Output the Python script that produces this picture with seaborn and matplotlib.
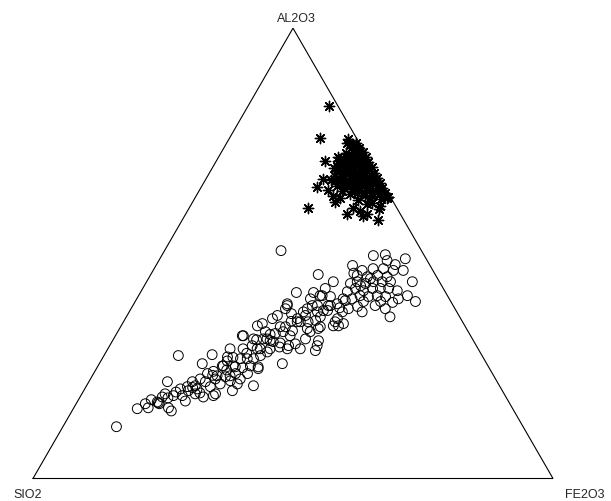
import numpy as np
import pandas as pd
import matplotlib
matplotlib.use("Agg")
import matplotlib.pyplot as plt
import seaborn as sns

# Ternary composition data (weight %), SiO2 is the remainder to 100
circ_al2o3 = [
    11.5, 15.5, 15.7, 17.5, 17.0, 16.8, 16.6, 15.7, 15.0, 21.5,
    27.3, 19.2, 18.4, 17.2, 20.4, 21.5, 19.9, 22.1, 18.1, 20.4,
    18.8, 27.5, 25.5, 23.3, 22.8, 25.0, 26.1, 28.8, 18.4, 21.7,
    22.1, 25.0, 31.7, 20.6, 24.4, 26.6, 29.5, 33.9, 31.0, 30.4,
    25.5, 28.8, 33.7, 36.2, 38.4, 28.8, 29.5, 30.6, 33.3, 37.0,
    33.7, 33.9, 38.4, 38.4, 34.8, 32.8, 28.1, 28.8, 45.3, 43.7,
    41.3, 41.3, 40.6, 40.4, 39.9, 38.8, 37.7, 37.7, 38.4, 38.4,
    38.8, 37.0, 35.5, 36.2, 37.0, 37.3, 35.5, 34.8, 34.8, 32.6,
    33.3, 34.8, 33.9, 32.6, 33.7, 32.6, 31.7, 31.7, 31.0, 31.0,
    30.6, 29.5, 28.4, 28.8, 28.8, 28.8, 27.0, 26.6, 26.6, 27.3,
    25.0, 24.8, 25.0, 24.8, 22.8, 23.3, 49.5, 49.7, 48.8, 48.4,
    47.3, 46.2, 46.6, 46.6, 46.2, 46.2, 45.1, 44.8, 45.1, 44.8,
    43.7, 43.3, 43.7, 43.7, 43.7, 43.7, 42.2, 41.7, 42.2, 42.2,
    42.2, 41.7, 41.5, 40.6, 40.6, 40.4, 40.6, 40.4, 39.9, 39.1,
    39.3, 37.3, 39.5, 38.2, 37.0, 38.4, 37.7, 35.9, 39.3, 35.5,
    37.7, 39.3, 50.6, 19.5, 18.8, 16.6, 18.1, 18.8, 18.4, 19.9,
    20.6, 21.5, 22.1, 21.0, 22.6, 23.3, 21.0, 34.4, 32.2, 29.9,
    31.0, 43.3, 39.9, 44.4, 47.5, 40.6, 42.2, 39.9, 19.5, 35.9,
    34.4, 17.9, 20.2, 23.8, 24.1, 26.9, 27.8, 30.1, 32.0, 34.9,
    36.6, 19.0, 22.9, 24.6, 29.2, 30.8, 35.1, 37.9, 42.8, 45.6,
]
circ_fe2o3 = [
    10.3, 12.3, 14.3, 14.0, 15.4, 15.7, 16.0, 18.2, 19.1, 15.1,
    14.3, 17.9, 19.5, 20.7, 19.5, 19.9, 21.6, 21.1, 23.7, 23.9,
    25.7, 20.7, 19.8, 21.9, 24.0, 23.9, 24.3, 23.5, 25.5, 27.1,
    28.8, 26.0, 24.6, 32.1, 31.1, 27.9, 27.4, 26.2, 29.5, 31.0,
    35.2, 34.5, 31.7, 28.9, 29.7, 37.0, 39.9, 39.6, 36.1, 33.5,
    38.4, 40.8, 38.0, 34.5, 33.4, 33.5, 31.0, 29.3, 32.2, 35.9,
    30.0, 33.3, 35.3, 37.0, 39.7, 29.5, 29.7, 33.9, 35.5, 37.6,
    39.1, 41.0, 33.1, 34.3, 36.2, 38.0, 28.3, 34.0, 35.5, 37.0,
    38.2, 40.7, 41.8, 28.4, 30.7, 31.8, 33.6, 24.4, 26.9, 28.8,
    30.3, 34.4, 40.1, 26.0, 28.7, 31.2, 23.9, 26.6, 29.1, 30.1,
    24.1, 26.5, 29.3, 30.9, 26.5, 29.6, 40.7, 42.9, 47.2, 43.9,
    37.8, 40.2, 42.1, 44.1, 46.2, 48.1, 39.8, 41.9, 43.7, 45.7,
    40.5, 42.3, 43.6, 45.3, 46.9, 51.1, 40.9, 42.7, 44.2, 45.7,
    47.3, 49.2, 39.7, 34.9, 42.6, 44.3, 45.9, 47.6, 50.3, 49.6,
    53.9, 37.2, 40.3, 43.3, 44.8, 46.6, 48.9, 50.7, 47.2, 40.8,
    41.8, 43.9, 22.4, 20.1, 21.8, 13.3, 15.8, 16.0, 17.8, 18.4,
    20.9, 22.4, 24.0, 25.5, 25.7, 27.3, 28.8, 26.9, 30.5, 35.5,
    36.9, 39.4, 41.4, 42.7, 45.9, 51.7, 35.1, 33.4, 28.6, 37.3,
    42.5, 17.0, 20.6, 22.8, 25.2, 25.0, 27.2, 32.5, 29.6, 32.2,
    31.4, 22.6, 23.1, 28.0, 32.8, 27.6, 36.8, 40.0, 41.6, 38.9,
]

# Second group: Fe2O3 is the remainder to 100
star_al2o3 = [
    82.7, 75.7, 75.3, 70.4, 66.6, 64.8, 60.0, 61.5, 58.8, 58.4,
    62.6, 60.6, 57.3, 74.4, 71.5, 71.1, 68.9, 66.2, 64.0, 62.8,
    62.2, 60.0, 59.5, 58.8, 61.1, 62.2,
    74.6, 74.2,
    73.5, 73.1, 73.4,
    72.4, 72.0, 72.3, 71.9, 72.2,
    71.3, 70.9, 71.2, 70.8, 71.1, 70.9,
    70.2, 69.8, 70.1, 69.7, 70.0, 69.8, 70.1,
    69.1, 68.7, 69.0, 68.6, 68.9, 68.7, 69.0, 68.8,
    67.9, 67.5, 67.8, 67.4, 67.7, 67.5, 67.8, 67.6,
    66.8, 66.4, 66.7, 66.3, 66.6, 66.4, 66.7, 66.5,
    65.7, 65.3, 65.6, 65.2, 65.5, 65.3, 65.6, 65.4,
    64.6, 64.2, 64.5, 64.1, 64.4, 64.2, 64.5,
    63.5, 63.1, 63.4, 63.0, 63.3, 63.1,
    62.4, 62.0, 62.3, 61.9,
    72.8, 71.6, 70.6, 69.3, 68.2, 67.1, 66.0, 64.9, 63.8, 62.7,
    71.7, 70.4, 69.4, 68.3, 67.2, 66.1, 65.0, 63.9, 60.9, 59.8,
]
star_sio2 = [
    1.8, 7.0, 1.8, 8.7, 11.0, 13.0, 17.2, 11.2, 10.3, 7.4,
    0.5, 3.0, 5.1, 2.5, 5.6, 4.9, 7.6, 9.5, 11.3, 10.9,
    9.9, 8.5, 7.4, 6.4, 4.3, 0.9,
    0.5, 1.5,
    0.5, 1.3, 2.2,
    0.4, 1.2, 2.0, 2.8, 3.7,
    0.4, 1.2, 2.0, 2.9, 3.8, 4.8,
    0.4, 1.2, 2.1, 3.0, 3.9, 4.8, 5.8,
    0.3, 1.1, 2.0, 2.9, 3.8, 4.7, 5.6, 6.6,
    0.4, 1.3, 2.2, 3.1, 4.0, 5.0, 6.0, 7.0,
    0.4, 1.4, 2.4, 3.4, 4.5, 5.6, 6.8, 7.8,
    0.4, 1.5, 2.6, 3.7, 4.9, 6.1, 7.3, 8.2,
    0.5, 1.6, 2.8, 4.0, 5.3, 6.6, 7.9,
    0.5, 1.8, 3.2, 4.6, 6.0, 7.5,
    0.5, 2.0, 4.0, 6.5,
    0.9, 1.6, 2.5, 3.3, 4.4, 5.5, 6.3, 7.1, 5.5, 3.5,
    3.3, 6.2, 6.8, 7.3, 8.4, 8.9, 9.0, 8.7, 5.3, 3.6,
]

corner_labels = ["SIO2", "FE2O3", "AL2O3"]


def ternary_xy(sio2, al2o3, fe2o3):
    s = np.asarray(sio2, float)
    a = np.asarray(al2o3, float)
    f = np.asarray(fe2o3, float)
    tot = s + a + f
    a, f = a / tot, f / tot
    return f + a / 2.0, a * np.sqrt(3) / 2.0


circ_al = np.array(circ_al2o3)
circ_fe = np.array(circ_fe2o3)
circ_si = 100.0 - circ_al - circ_fe
star_al = np.array(star_al2o3)
star_si = np.array(star_sio2)
star_fe = 100.0 - star_al - star_si

cx, cy = ternary_xy(circ_si, circ_al, circ_fe)
sx, sy = ternary_xy(star_si, star_al, star_fe)
df_circ = pd.DataFrame({"x": cx, "y": cy})
df_star = pd.DataFrame({"x": sx, "y": sy})

sns.set_style("white")
plt.rcParams["font.family"] = ["Liberation Sans", "DejaVu Sans"]

fig = plt.figure(figsize=(6.11, 5.02), dpi=100)
ax = fig.add_axes([0, 0, 1, 1])

# triangle frame
h = np.sqrt(3) / 2.0
ax.plot([0, 1, 0.5, 0], [0, 0, h, 0], color="black", lw=0.8,
        solid_joinstyle="miter")

sns.scatterplot(data=df_circ, x="x", y="y", ax=ax, marker="o", s=50,
                color="black", facecolor="none", edgecolor="black",
                linewidth=0.7, legend=False)
sns.scatterplot(data=df_star, x="x", y="y", ax=ax, marker=(8, 2, 0), s=55,
                color="black", linewidth=1.0, legend=False)

ax.text(-0.0096, -0.030, corner_labels[0], ha="center", va="center", fontsize=9)
ax.text(1.0615, -0.030, corner_labels[1], ha="center", va="center", fontsize=9)
ax.text(0.5058, 0.8856, corner_labels[2], ha="center", va="center", fontsize=9)

ax.set_xlim(-33 / 520, (611 - 33) / 520)
ax.set_ylim(-22.5 / 520, (502 - 22.5) / 520)
ax.set_axis_off()

fig.savefig("out.png", dpi=100, facecolor="white")
